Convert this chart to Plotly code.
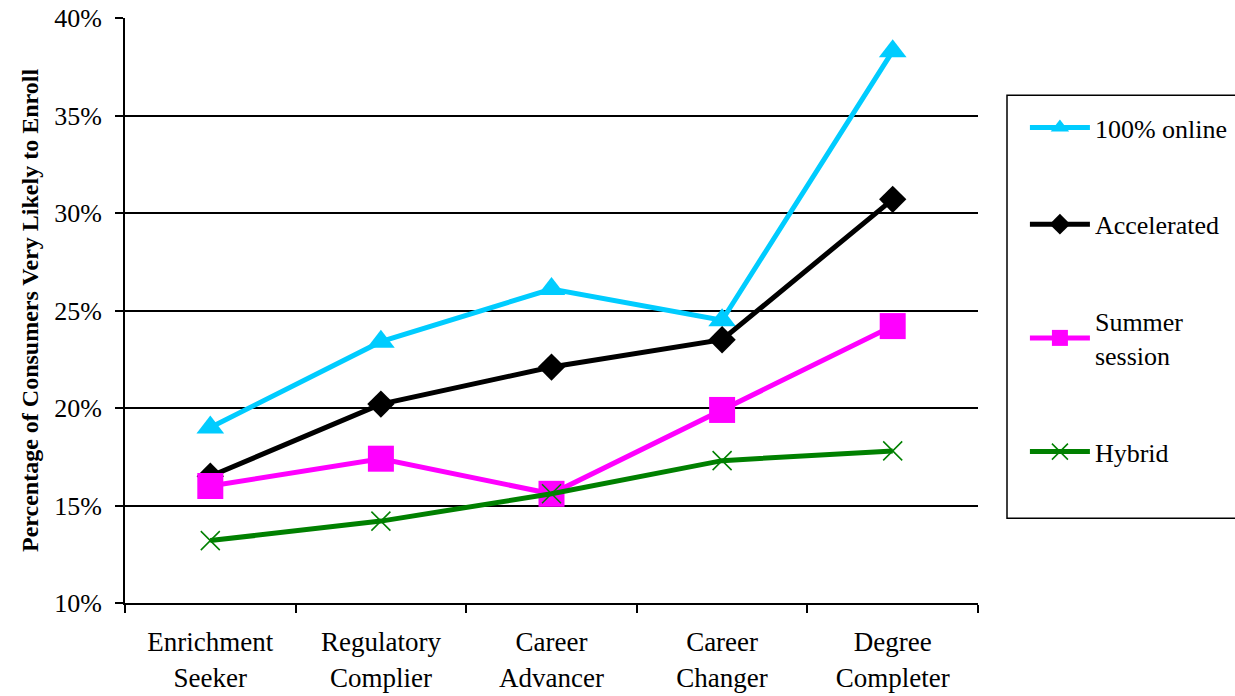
import plotly.graph_objects as go

categories = ["Enrichment<br>Seeker", "Regulatory<br>Complier", "Career<br>Advancer",
              "Career<br>Changer", "Degree<br>Completer"]

online = [19.0, 23.4, 26.1, 24.5, 38.3]
accelerated = [16.5, 20.2, 22.1, 23.5, 30.7]
summer = [16.0, 17.4, 15.6, 19.9, 24.2]
hybrid = [13.2, 14.2, 15.6, 17.3, 17.8]

series_names = ["100% online", "Accelerated", "Summer<br>session", "Hybrid"]
y_ticks = [10, 15, 20, 25, 30, 35, 40]
y_labels = ["10%", "15%", "20%", "25%", "30%", "35%", "40%"]

FONT = "'Liberation Serif', 'Times New Roman', Times, serif"

fig = go.Figure()

styles = [
    (online, "#00CCFF", dict(symbol="triangle-up", size=24)),
    (accelerated, "#000000", dict(symbol="diamond", size=21)),
    (summer, "#FF00FF", dict(symbol="square", size=26)),
    (hybrid, "#008000", dict(symbol="x-thin", size=19, line=dict(width=1.5, color="#008000"))),
]

for i, (name, (vals, color, marker)) in enumerate(zip(series_names, styles)):
    fig.add_trace(go.Scatter(
        x=categories, y=vals, name=name, mode="lines+markers",
        legendgroup=f"g{i}",
        line=dict(color=color, width=5),
        marker=dict(color=color, **marker),
    ))

fig.update_layout(
    width=1235, height=696,
    margin=dict(l=125, r=257, t=18, b=93, autoexpand=False),
    paper_bgcolor="white", plot_bgcolor="white",
    font=dict(family=FONT, color="#000000", size=26),
    legend=dict(
        x=1.055, xanchor="left", y=0.853, yanchor="top",
        bgcolor="rgba(0,0,0,0)", borderwidth=0,
        font=dict(family=FONT, size=26),
        tracegroupgap=60, itemwidth=60,
    ),
    showlegend=True,
    shapes=[
        # frame around the legend
        dict(type="rect", xref="paper", yref="paper",
             x0=1.034, x1=1.32, y0=0.145, y1=0.868,
             line=dict(color="#000000", width=1.5), fillcolor="rgba(0,0,0,0)"),
    ],
)

fig.update_xaxes(
    range=[-0.5, 4.5], automargin=False,
    showline=True, linecolor="#000000", linewidth=2,
    ticks="outside", ticklen=8, tickwidth=1.5, tickcolor="#000000",
    tickson="boundaries", showgrid=False,
    tickfont=dict(family=FONT, size=27), ticklabelstandoff=14,
)

fig.update_yaxes(
    range=[10, 40], tickvals=y_ticks, ticktext=y_labels, automargin=False,
    showline=True, linecolor="#000000", linewidth=2,
    ticks="outside", ticklen=8, tickwidth=1.5, tickcolor="#000000",
    showgrid=True, gridcolor="#000000", gridwidth=1.5,
    zeroline=False,
    tickfont=dict(family=FONT, size=26), ticklabelstandoff=8,
    title=dict(text="<b>Percentage of Consumers Very Likely to Enroll</b>",
               font=dict(family=FONT, size=24), standoff=9),
)

fig.write_html("out.html")
